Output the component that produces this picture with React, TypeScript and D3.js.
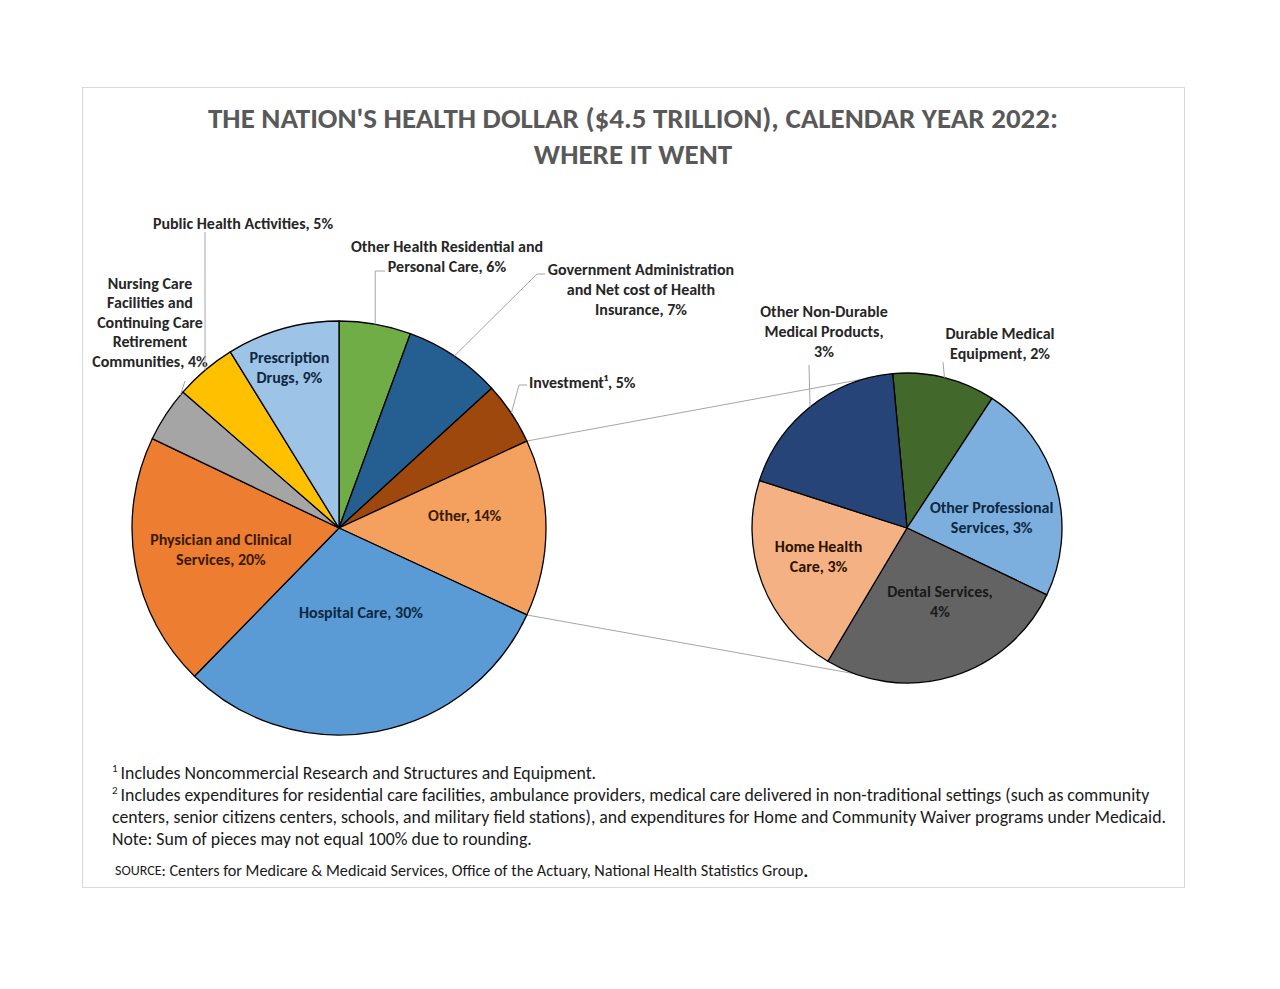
import React from "react";
import * as d3 from "d3";

// ---------- DATA ----------
const mainCategories = [
  "Other Health Residential and Personal Care",
  "Government Administration and Net cost of Health Insurance",
  "Investment",
  "Other",
  "Hospital Care",
  "Physician and Clinical Services",
  "Nursing Care Facilities and Continuing Care Retirement Communities",
  "Public Health Activities",
  "Prescription Drugs",
];
const mainValues = [5.6, 7.6, 4.9, 13.8, 30.4, 19.8, 4.3, 4.8, 8.8];
const mainPct = [6, 7, 5, 14, 30, 20, 4, 5, 9];

const subCategories = [
  "Durable Medical Equipment",
  "Other Professional Services",
  "Dental Services",
  "Home Health Care",
  "Other Non-Durable Medical Products",
];
const subValues = [1.5, 3.2, 3.7, 3.0, 2.6];
const subPct = [2, 3, 4, 3, 3];

const titleLines = [
  "THE NATION'S HEALTH DOLLAR ($4.5 TRILLION), CALENDAR YEAR 2022:",
  "WHERE IT WENT",
];
const footnotes = [
  { sup: "1", text: "Includes Noncommercial Research and Structures and Equipment." },
  {
    sup: "2",
    text: "Includes expenditures for residential care facilities, ambulance providers, medical care delivered in non-traditional settings (such as community",
  },
  {
    sup: "",
    text: "centers, senior citizens centers, schools, and military field stations), and expenditures for Home and Community Waiver programs under Medicaid.",
  },
  { sup: "", text: "Note: Sum of pieces may not equal 100% due to rounding." },
];
const sourceText = ": Centers for Medicare & Medicaid Services, Office of the Actuary, National Health Statistics Group";

// ---------- STYLE / LAYOUT ----------
const mainColors = ["#70AD47", "#255E91", "#9E480E", "#F4A15F", "#5B9BD5", "#ED7D31", "#A5A5A5", "#FFC000", "#9DC3E6"];
const subColors = ["#43682B", "#7CAFDD", "#636363", "#F4B183", "#264478"];
const mainTextColors = ["#262626", "#262626", "#262626", "#3B1A02", "#0E2841", "#3B1A02", "#262626", "#262626", "#0E2841"];
const subTextColors = ["#262626", "#0E2841", "#1A1A1A", "#2B1200", "#262626"];

const FONT = "Carlito, Lato, 'Open Sans', sans-serif";
const LABEL_FS = 16;
const MAIN = { cx: 339, cy: 528, r: 207 };
const SUB = { cx: 907, cy: 528, r: 155 };
const SUB_START_DEG = -5.3;
const BOTTOM_CONNECTOR_DEG = 200;

// label line breaks (layout only)
const mainLabelLines = [
  ["Other Health Residential and", "Personal Care, " + mainPct[0] + "%"],
  ["Government Administration", "and Net cost of Health", "Insurance, " + mainPct[1] + "%"],
  ["Investment", ", " + mainPct[2] + "%"],
  ["Other, " + mainPct[3] + "%"],
  ["Hospital Care, " + mainPct[4] + "%"],
  ["Physician and Clinical", "Services, " + mainPct[5] + "%"],
  ["Nursing Care", "Facilities and", "Continuing Care", "Retirement", "Communities, " + mainPct[6] + "%"],
  ["Public Health Activities, " + mainPct[7] + "%"],
  ["Prescription", "Drugs, " + mainPct[8] + "%"],
];
const subLabelLines = [
  ["Durable Medical", "Equipment, " + subPct[0] + "%"],
  ["Other Professional", "Services, " + subPct[1] + "%"],
  ["Dental Services,", subPct[2] + "%"],
  ["Home Health", "Care, " + subPct[3] + "%"],
  ["Other Non-Durable", "Medical Products,", subPct[4] + "%"],
];

type Inside = { kind: "in"; dAng: number; rf: number };
type Outside = {
  kind: "out";
  x: number;
  y: number;
  anchor?: string;
  lh: number;
  leader: number[][];
  elbowV?: boolean;
  frac: number;
};
const mainLabelLayout: (Inside | Outside)[] = [
  { kind: "out", x: 447, y: 246, lh: 20, leader: [[385, 271]], elbowV: true, frac: 0.5 },
  { kind: "out", x: 641, y: 269, lh: 20, leader: [[545, 274], [537, 274]], frac: 0.5 },
  { kind: "out", x: 529, y: 382, lh: 20, anchor: "start", leader: [[527, 385], [519, 385]], frac: 0.5 },
  { kind: "in", dAng: -5.5, rf: 0.61 },
  { kind: "in", dAng: -4.2, rf: 0.42 },
  { kind: "in", dAng: -0.35, rf: 0.58 },
  { kind: "out", x: 150, y: 283, lh: 19.5, leader: [[185, 381]], frac: 0.93 },
  { kind: "out", x: 243, y: 223, lh: 20, leader: [[205, 232]], frac: 0.5 },
  { kind: "in", dAng: -1.4, rf: 0.81 },
];
const subLabelLayout: (Inside | Outside)[] = [
  { kind: "out", x: 1000, y: 333, lh: 20, leader: [[943, 362]], frac: 0.5 },
  { kind: "in", dAng: 8.8, rf: 0.55 },
  { kind: "in", dAng: -7.25, rf: 0.52 },
  { kind: "in", dAng: 2.65, rf: 0.6 },
  { kind: "out", x: 824, y: 311, lh: 20, leader: [[809, 365]], frac: 0.5 },
];

const rad = (d: number) => (d * Math.PI) / 180;
const polar = (c: { cx: number; cy: number }, r: number, a: number): [number, number] => [
  c.cx + r * Math.sin(a),
  c.cy - r * Math.cos(a),
];

function PieGroup(props: {
  values: number[];
  colors: string[];
  textColors: string[];
  lines: string[][];
  layout: (Inside | Outside)[];
  geo: { cx: number; cy: number; r: number };
  start: number;
}) {
  const { values, colors, textColors, lines, layout, geo, start } = props;
  const arcs = d3
    .pie<number>()
    .sort(null)
    .value((d) => d)
    .startAngle(start)
    .endAngle(start + 2 * Math.PI)(values);
  const arcGen = d3.arc<d3.PieArcDatum<number>>().innerRadius(0).outerRadius(geo.r);
  return (
    <g>
      <g transform={`translate(${geo.cx},${geo.cy})`}>
        {arcs.map((a, i) => (
          <path key={i} d={arcGen(a) || ""} fill={colors[i]} stroke="#000" strokeWidth={1.3} strokeLinejoin="round" />
        ))}
      </g>
      {arcs.map((a, i) => {
        const L = layout[i];
        const ls = lines[i];
        const mid = (a.startAngle + a.endAngle) / 2;
        if (L.kind === "in") {
          const [x, y] = polar(geo, geo.r * L.rf, mid + rad(L.dAng));
          const lh = 20;
          const y0 = y - ((ls.length - 1) * lh) / 2;
          return (
            <text key={"t" + i} fontFamily={FONT} fontWeight="bold" fontSize={LABEL_FS} fill={textColors[i]} textAnchor="middle">
              {ls.map((s, j) => (
                <tspan key={j} x={x} y={y0 + j * lh} dominantBaseline="central">
                  {s}
                </tspan>
              ))}
            </text>
          );
        }
        const ang = a.startAngle + (a.endAngle - a.startAngle) * L.frac;
        const end = polar(geo, geo.r, ang);
        let pts = L.leader.map((p) => [p[0], p[1]]);
        if (L.elbowV) pts.push([end[0], pts[0][1]]);
        pts.push(end);
        const anchor = L.anchor || "middle";
        const isInvest = ls.length === 2 && ls[0] === "Investment";
        return (
          <g key={"o" + i}>
            <polyline points={pts.map((p) => p.join(",")).join(" ")} fill="none" stroke="#A6A6A6" strokeWidth={1} />
            {isInvest ? (
              <text x={L.x} y={L.y} dominantBaseline="central" fontFamily={FONT} fontWeight="bold" fontSize={LABEL_FS} fill={textColors[i]} textAnchor="start">
                {ls[0] + "\u00B9" + ls[1]}
              </text>
            ) : (
              <text fontFamily={FONT} fontWeight="bold" fontSize={LABEL_FS} fill={textColors[i]} textAnchor={anchor}>
                {ls.map((s, j) => (
                  <tspan key={j} x={L.x} y={L.y + j * L.lh} dominantBaseline="central">
                    {s}
                  </tspan>
                ))}
              </text>
            )}
          </g>
        );
      })}
    </g>
  );
}

export default function App() {
  const mainArcs = d3.pie<number>().sort(null).value((d) => d)(mainValues);
  const otherIdx = mainCategories.indexOf("Other");
  const other = mainArcs[otherIdx];
  const subStart = rad(SUB_START_DEG);
  const c1a = polar(MAIN, MAIN.r, other.startAngle);
  const c1b = polar(SUB, SUB.r, subStart);
  const c2a = polar(MAIN, MAIN.r, other.endAngle);
  const c2b = polar(SUB, SUB.r, rad(BOTTOM_CONNECTOR_DEG));

  return (
    <svg
      width={1280}
      height={989}
      style={{ position: "absolute", left: 0, top: 0, background: "#fff" }}
      xmlns="http://www.w3.org/2000/svg"
    >
      <rect x={0} y={0} width={1280} height={989} fill="#fff" />
      <rect x={82.5} y={87.5} width={1102} height={800} fill="#fff" stroke="#D9D9D9" strokeWidth={1} />
      {titleLines.map((t, i) => (
        <text
          key={i}
          x={633}
          y={118 + i * 36}
          textAnchor="middle"
          dominantBaseline="central"
          fontFamily={FONT}
          fontWeight="bold"
          fontSize={29}
          fill="#595959"
        >
          {t}
        </text>
      ))}

      <line x1={c1a[0]} y1={c1a[1]} x2={c1b[0]} y2={c1b[1]} stroke="#A6A6A6" strokeWidth={1} />
      <line x1={c2a[0]} y1={c2a[1]} x2={c2b[0]} y2={c2b[1]} stroke="#A6A6A6" strokeWidth={1} />

      <PieGroup
        values={mainValues}
        colors={mainColors}
        textColors={mainTextColors}
        lines={mainLabelLines}
        layout={mainLabelLayout}
        geo={MAIN}
        start={0}
      />
      <PieGroup
        values={subValues}
        colors={subColors}
        textColors={subTextColors}
        lines={subLabelLines}
        layout={subLabelLayout}
        geo={SUB}
        start={subStart}
      />

      {footnotes.map((f, i) => (
        <text key={i} x={112} y={773 + i * 22} dominantBaseline="central" fontFamily={FONT} fontSize={17.8} fill="#1a1a1a">
          {f.sup ? (
            <tspan fontSize={11} dy={-5}>
              {f.sup}
            </tspan>
          ) : null}
          {f.sup ? (
            <tspan dy={5} dx={3}>
              {f.text}
            </tspan>
          ) : (
            f.text
          )}
        </text>
      ))}
      <text x={115} y={870} dominantBaseline="central" fontFamily={FONT} fontSize={16.2} fill="#1a1a1a">
        <tspan fontSize={14}>SOURCE</tspan>
        {sourceText}
        <tspan fontWeight="bold" fontSize={19}>.</tspan>
      </text>
    </svg>
  );
}
